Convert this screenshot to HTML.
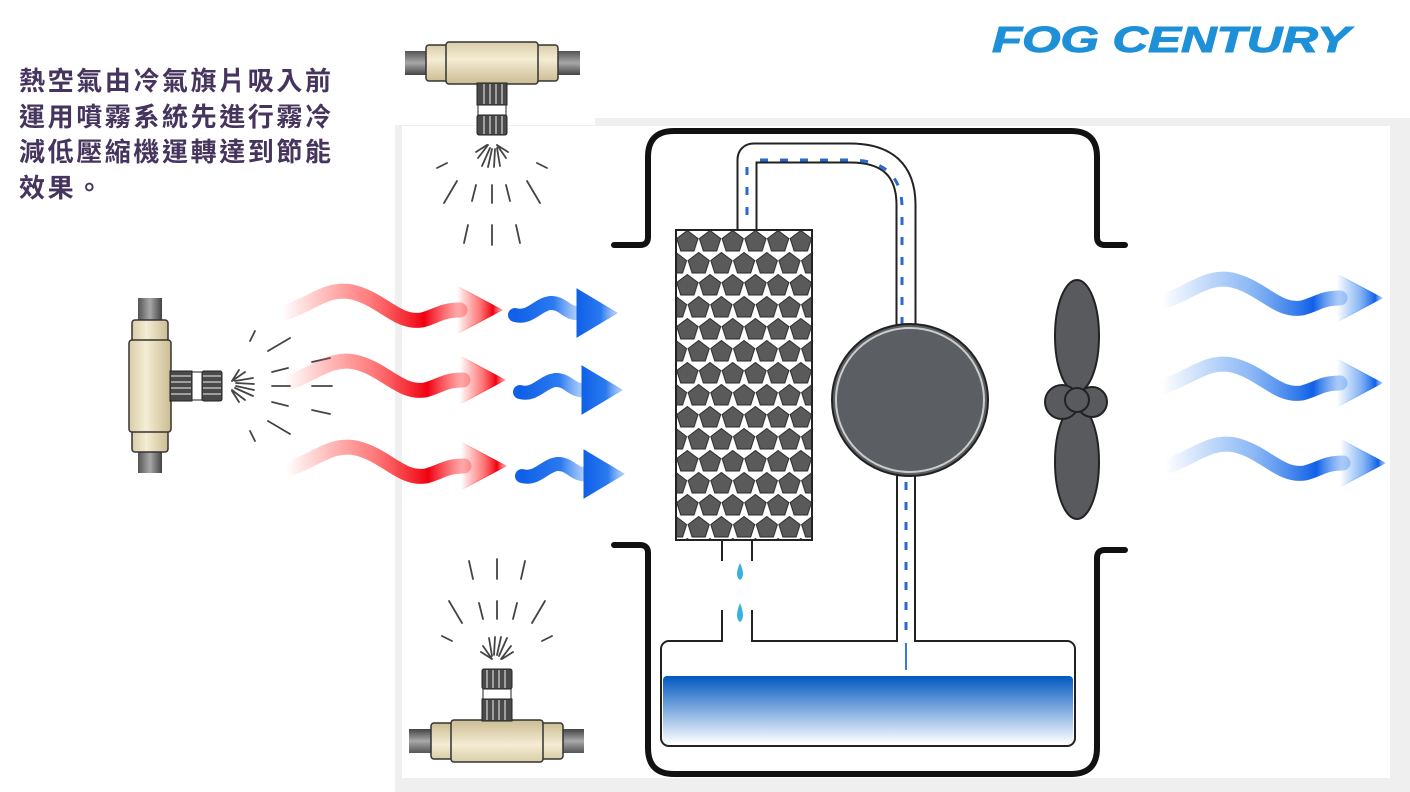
<!DOCTYPE html>
<html><head><meta charset="utf-8"><style>
html,body{margin:0;padding:0;background:#fff;width:1410px;height:792px;overflow:hidden}
.t{position:absolute;left:19px;top:64px;font-family:"Liberation Sans","Noto Sans CJK TC",sans-serif;font-size:26px;line-height:35.5px;color:#45355e;letter-spacing:2.6px;font-weight:bold;white-space:nowrap}
svg{position:absolute;left:0;top:0}
</style></head><body>
<svg width="1410" height="792" viewBox="0 0 1410 792">
<defs>
<linearGradient id="pipeH" x1="0" y1="0" x2="0" y2="1"><stop offset="0" stop-color="#555"/><stop offset=".5" stop-color="#a8a8a8"/><stop offset="1" stop-color="#444"/></linearGradient>
<linearGradient id="body" x1="0" y1="0" x2="0" y2="1"><stop offset="0" stop-color="#d9cda8"/><stop offset=".4" stop-color="#f4ecd4"/><stop offset="1" stop-color="#cbbd93"/></linearGradient>
<linearGradient id="red" x1="0" y1="0" x2="1" y2="0"><stop offset="0" stop-color="#ff3030" stop-opacity="0"/><stop offset=".5" stop-color="#ff4040" stop-opacity=".7"/><stop offset=".8" stop-color="#f00010"/><stop offset="1" stop-color="#ff6060" stop-opacity=".5"/></linearGradient>
<linearGradient id="blu" x1="0" y1="0" x2="1" y2="0"><stop offset="0" stop-color="#1060e8"/><stop offset=".6" stop-color="#2a7af0"/><stop offset="1" stop-color="#8ab8f8" stop-opacity=".6"/></linearGradient>
<linearGradient id="blu2" x1="0" y1="0" x2="1" y2="0"><stop offset="0" stop-color="#4a90f0" stop-opacity="0"/><stop offset=".5" stop-color="#5a9af0" stop-opacity=".7"/><stop offset=".85" stop-color="#1060e8"/><stop offset="1" stop-color="#7fb0f5" stop-opacity=".6"/></linearGradient>
<linearGradient id="water" x1="0" y1="0" x2="0" y2="1"><stop offset="0" stop-color="#0058c0"/><stop offset="1" stop-color="#ffffff"/></linearGradient>
<pattern id="pent" x="676" y="230" width="22.7" height="44" patternUnits="userSpaceOnUse">
<rect width="22.7" height="44" fill="#fff"/>
<g fill="#5a5a5a" stroke="#2a2a2a" stroke-width="1">
<polygon points="11.35,0.5 22,8.5 18,21 4.7,21 0.7,8.5"/>
<polygon points="0,22.5 10.6,30.5 6.6,43 -6.6,43 -10.6,30.5"/>
<polygon points="22.7,22.5 33.3,30.5 29.3,43 16.1,43 12.1,30.5"/>
</g></pattern>
<g id="nz">
<rect x="-87" y="-12" width="175" height="24" fill="url(#pipeH)"/>
<rect x="-66" y="-18" width="22" height="36" rx="3" fill="url(#body)" stroke="#333" stroke-width="1.5"/>
<rect x="44" y="-18" width="22" height="36" rx="3" fill="url(#body)" stroke="#333" stroke-width="1.5"/>
<rect x="-46" y="-21" width="92" height="42" rx="3" fill="url(#body)" stroke="#333" stroke-width="1.5"/>
<rect x="-15" y="20" width="30" height="22" fill="#4a4a4a" stroke="#222"/>
<rect x="-14" y="42" width="28" height="10" fill="#fff" stroke="#222"/>
<rect x="-15" y="52" width="30" height="20" rx="2" fill="#4a4a4a" stroke="#222"/>
<path d="M-8,21V41M-2,21V41M4,21V41M10,21V41M-8,53V71M-2,53V71M4,53V71M10,53V71" stroke="#bbb" stroke-width="1.5"/>
<g stroke="#444" stroke-width="1.8" stroke-linecap="round">
<path d="M-14,95 L-4,82 M-10,103 L-2,85 M-4,104 L0,86 M2,104 L3,86 M8,103 L5,85 M14,95 L5,82 M-5,82 L-16,89 M5,82 L16,89"/>
<path d="M-55,105 L-45,100 M55,105 L45,100 M-48,140 L-35,118 M-20,138 L-16,122 M0,140 V122 M18,138 L14,122 M48,140 L35,118"/>
<path d="M-28,180 L-24,162 M0,182 V162 M28,180 L24,162"/>
</g>
</g>
<g id="warrow">
<path d="M0,12 C30,2 45,-15 70,-10 C100,-3 115,22 140,18 C155,14 160,8 178,8" fill="none" stroke-width="15" stroke-linecap="round"/>
<polygon points="175,-16 220,8 175,32"/>
</g>
<g id="sarrow">
<path d="M0,10 C15,14 22,0 35,-2 C48,-3 52,10 65,8" fill="none" stroke-width="14" stroke-linecap="round"/>
<polygon points="62,-16 102,8 62,32"/>
</g>
</defs>

<rect x="395" y="118" width="1015" height="674" fill="#efefef"/>
<rect x="402" y="126" width="988" height="652" fill="#fff"/>
<rect x="395" y="30" width="200" height="95" fill="#fff"/>

<text x="992" y="52" font-family="Liberation Sans, sans-serif" font-weight="bold" font-style="italic" font-size="36" fill="#1e90d8" stroke="#1e90d8" stroke-width="1" textLength="358" lengthAdjust="spacingAndGlyphs">FOG CENTURY</text>

<use href="#nz" transform="translate(492,63)"/>
<use href="#nz" transform="translate(497,741) rotate(180)"/>
<use href="#nz" transform="translate(150,386) rotate(-90)"/>

<g fill="url(#red)" stroke="url(#red)">
<use href="#warrow" transform="translate(282,302)"/>
<use href="#warrow" transform="translate(285,372)"/>
<use href="#warrow" transform="translate(286,458)"/>
</g>
<g fill="url(#blu)" stroke="url(#blu)">
<use href="#sarrow" transform="translate(515,305)"/>
<use href="#sarrow" transform="translate(520,382)"/>
<use href="#sarrow" transform="translate(522,466)"/>
</g>
<g fill="url(#blu2)" stroke="url(#blu2)">
<use href="#warrow" transform="translate(1162,290)"/>
<use href="#warrow" transform="translate(1162,375)"/>
<use href="#warrow" transform="translate(1165,455)"/>
</g>

<g fill="none" stroke="#111" stroke-width="6" stroke-linecap="round">
<path d="M614,245 H640 Q648,245 648,237 V157 Q648,131 674,131 H1071 Q1097,131 1097,157 V237 Q1097,245 1105,245 H1125"/>
<path d="M614,545 H640 Q648,545 648,553 V748 Q648,774 674,774 H1071 Q1097,774 1097,748 V558 Q1097,550 1105,550 H1125"/>
</g>

<rect x="661" y="641" width="414" height="105" rx="8" fill="#fff" stroke="#222" stroke-width="2"/>
<rect x="663" y="676" width="410" height="68" rx="4" fill="url(#water)"/>

<g fill="none" stroke-linejoin="round">
<path d="M747,234 V160 Q747,153 754,153 H850 Q906,153 906,205 V335" stroke="#222" stroke-width="21"/>
<path d="M747,236 V160 Q747,153 754,153 H850 Q906,153 906,205 V340" stroke="#fff" stroke-width="17"/>
<path d="M906,470 V641" stroke="#222" stroke-width="20"/>
<path d="M906,465 V643" stroke="#fff" stroke-width="16"/>
<path d="M722,538 V561 M752,538 V561 M722,610 V642 M752,610 V642" stroke="#222" stroke-width="2"/>
<rect x="723" y="638" width="28" height="6" fill="#fff" stroke="none"/>
<path d="M906,670 V643" stroke="#3a7ad8" stroke-width="2"/>
<path d="M747,215 V165 M760,160 H850 Q900,160 902,205 V330 M906,630 V480" stroke="#2a6ad0" stroke-width="3" stroke-dasharray="8 12"/>
</g>

<rect x="676" y="230" width="136" height="310" fill="url(#pent)" stroke="#222" stroke-width="2"/>

<path d="M740,563 Q734,576 740,580 Q746,576 740,563Z" fill="#3ab0e0"/>
<path d="M740,603 Q734,618 740,622 Q746,618 740,603Z" fill="#3ab0e0"/>

<ellipse cx="910" cy="400" rx="78" ry="76" fill="#5b5e62" stroke="#222" stroke-width="2"/>
<ellipse cx="910" cy="400" rx="74" ry="72" fill="none" stroke="#ccc" stroke-width="2"/>

<g fill="#585a5e" stroke="#222" stroke-width="2">
<ellipse cx="1077" cy="336" rx="22" ry="56"/>
<ellipse cx="1077" cy="462" rx="22" ry="57"/>
<circle cx="1062" cy="402" r="17"/>
<circle cx="1092" cy="402" r="15"/>
<circle cx="1077" cy="400" r="12"/>
</g>
</svg>
<div class="t">熱空氣由冷氣旗片吸入前<br>運用噴霧系統先進行霧冷<br>減低壓縮機運轉達到節能<br>效果。</div>
</body></html>
